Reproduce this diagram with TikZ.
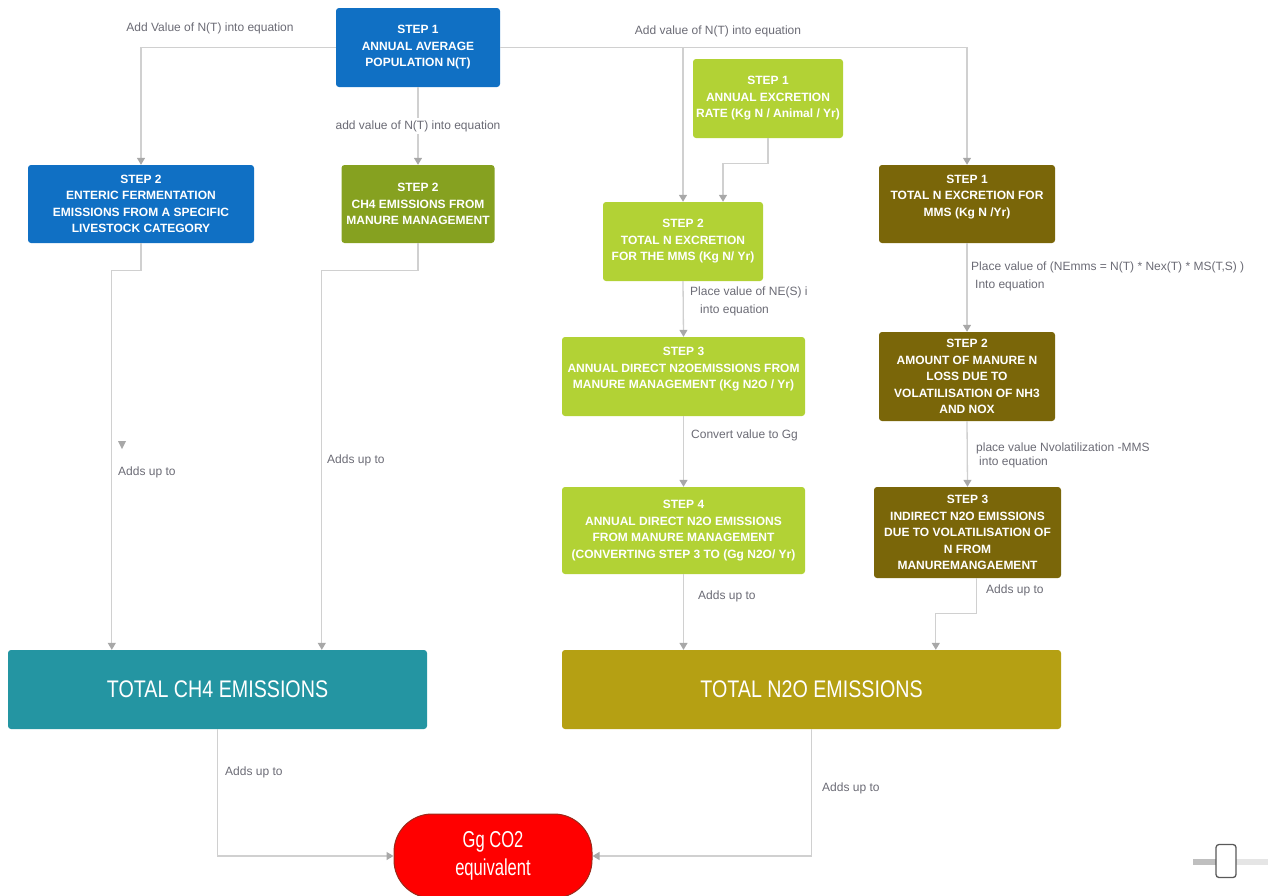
\documentclass[tikz,border=0pt]{standalone}
\usepackage{fontspec}
\setmainfont{Liberation Sans}
\newfontfamily\narrowfont[FakeStretch=0.82]{Liberation Sans}
\newfontfamily\pillfont[FakeStretch=0.72]{Liberation Sans}
\usetikzlibrary{arrows.meta,calc,positioning}

\definecolor{stepblue}{HTML}{1070C4}
\definecolor{mossgreen}{HTML}{86A120}
\definecolor{limegreen}{HTML}{B2D235}
\definecolor{darkolive}{HTML}{7A6609}
\definecolor{totteal}{HTML}{2495A2}
\definecolor{mustard}{HTML}{B5A013}
\definecolor{pillred}{HTML}{FF0000}
\definecolor{pillrim}{HTML}{9A2A1A}
\definecolor{linegray}{HTML}{D0D0D0}
\definecolor{tipgray}{HTML}{A8A8A8}
\definecolor{labgray}{HTML}{6B6B75}

\begin{document}
\begin{tikzpicture}[
            x=1pt, y=-1pt,
            box/.style={rectangle, rounded corners=3pt, align=center, text=white, inner sep=2pt,
                        font=\fontsize{12}{16.5}\selectfont\bfseries},
            total/.style={rectangle, rounded corners=3pt, text=white, minimum height=79pt,
                        font=\narrowfont\fontsize{24}{28}\selectfont},
            flow/.style={-{Triangle[width=8pt,length=7pt,color=tipgray]}, draw=linegray, line width=1.3pt},
            lab/.style={text=labgray, inner sep=1pt, align=left, font=\fontsize{12}{18}\selectfont}
        ]
        \useasboundingbox (0,0) rectangle (1268,895);

        % nodes
        \node[box, fill=stepblue, minimum width=164pt, minimum height=79pt] (pop) at (418,47.5)
            {STEP 1\\ANNUAL AVERAGE\\POPULATION N(T)};
        \node[box, fill=stepblue, minimum width=226pt, minimum height=78pt] (enteric) at (141,204)
            {STEP 2\\ENTERIC FERMENTATION\\EMISSIONS FROM A SPECIFIC\\LIVESTOCK CATEGORY};
        \node[box, fill=mossgreen, minimum width=153pt, minimum height=78pt] (ch4mm) at (418,204)
            {STEP 2\\CH4 EMISSIONS FROM\\MANURE MANAGEMENT};
        \node[box, fill=limegreen, minimum width=150pt, minimum height=79pt] (excr) at (768,98.5)
            {STEP 1\\ANNUAL EXCRETION\\RATE (Kg N / Animal / Yr)};
        \node[box, fill=limegreen, minimum width=160pt, minimum height=79pt] (totn) at (683,241.5)
            {STEP 2\\TOTAL N EXCRETION\\FOR THE MMS (Kg N/ Yr)};
        \node[box, fill=limegreen, minimum width=243pt, minimum height=79pt] (dirkg) at (683.5,376.5)
            {STEP 3\\ANNUAL DIRECT N2OEMISSIONS FROM\\MANURE MANAGEMENT (Kg N2O / Yr)\\\mbox{}};
        \node[box, fill=limegreen, minimum width=243pt, minimum height=87pt] (dirgg) at (683.5,530.5)
            {STEP 4\\ANNUAL DIRECT N2O EMISSIONS\\FROM MANURE MANAGEMENT\\(CONVERTING STEP 3 TO (Gg N2O/ Yr)};
        \node[box, fill=darkolive, minimum width=176pt, minimum height=78pt] (mms) at (967,204)
            {STEP 1\\TOTAL N EXCRETION FOR\\MMS (Kg N /Yr)\\\mbox{}};
        \node[box, fill=darkolive, minimum width=176pt, minimum height=89pt] (loss) at (967,376.5)
            {STEP 2\\AMOUNT OF MANURE N\\LOSS DUE TO\\VOLATILISATION OF NH3\\AND NOX};
        \node[box, fill=darkolive, minimum width=187pt, minimum height=91pt] (indir) at (967.5,532.5)
            {STEP 3\\INDIRECT N2O EMISSIONS\\DUE TO VOLATILISATION OF\\N FROM\\MANUREMANGAEMENT};
        \node[total, fill=totteal, minimum width=419pt] (ch4tot) at (217.5,689.5) {TOTAL CH4 EMISSIONS};
        \node[total, fill=mustard, minimum width=499pt] (n2otot) at (811.5,689.5) {TOTAL N2O EMISSIONS};
        \node[rectangle, rounded corners=38pt, fill=pillred, draw=pillrim, line width=1pt,
              minimum width=198pt, minimum height=84pt, align=center, text=white,
              font=\pillfont\fontsize{23}{28}\selectfont] (co2) at (493,856) {Gg CO2\\equivalent};

        % entry points on the boxes
        \coordinate (branch) at (totn.north |- pop.east);
        \coordinate (totnin) at ($(totn.north)+(40,0)$);
        \coordinate (ch4ina) at ($(ch4tot.north west)+(104,0)$);
        \coordinate (ch4inb) at ($(ch4tot.north west)+(314,0)$);
        \coordinate (n2oina) at (dirgg.south |- n2otot.north);
        \coordinate (indout) at ($(indir.south)+(9,0)$);
        \coordinate (n2oinb) at ($(n2otot.north west)+(374,0)$);

        % arrows
        \draw[flow] (pop.west) -| (enteric.north);
        \draw[flow] (pop.east) -| (mms.north);
        \draw[flow] (branch) -- (totn.north);
        \draw[flow] (pop.south) -- node[lab, fill=white, inner sep=2pt] (lpopch4) {add value of N(T) into equation} (ch4mm.north);
        \draw[flow] (excr.south) -- ++(0,25) -| (totnin);
        \draw[flow] (enteric.south) -- ++(0,27) -| (ch4ina);
        \draw[flow] (ch4mm.south) -- ++(0,27) -| (ch4inb);
        \draw[flow] (totn.south) -- (dirkg.north);
        \draw[flow] (dirkg.south) -- (dirgg.north);
        \draw[flow] (dirgg.south) -- (n2oina);
        \draw[flow] (mms.south) -- (loss.north);
        \draw[flow] (loss.south) -- (indir.north);
        \draw[flow] (indout) -- ++(0,35) -| (n2oinb);
        \draw[flow] (ch4tot.south) |- (co2.west);
        \draw[flow] (n2otot.south) |- (co2.east);
        \fill[tipgray] (118,441) -- (126,441) -- (122,449) -- cycle;

        % labels
        \node[lab] (lpopent) at (210,28) {Add Value of N(T) into equation};
        \node[lab] (lpopmms) at (718,31) {Add value of N(T) into equation};
        \node[lab, anchor=west] (lentsum) at (117,472) {Adds up to};
        \node[lab, anchor=west] (lmmsum) at (326,460) {Adds up to};
        \node[lab, anchor=west] (lnes) at (689,301) {Place value of NE(S) i\\\hspace*{10pt}into equation};
        \node[lab, anchor=west] (lconv) at (690,435) {Convert value to Gg};
        \node[lab, anchor=west] (ldirsum) at (697,596) {Adds up to};
        \node[lab, anchor=west] (lnemms) at (970,276.5) {Place value of (NEmms = N(T) * Nex(T) * MS(T,S) )\\\hspace*{4pt}Into equation};
        \node[lab, anchor=west, font=\fontsize{12}{14}\selectfont] (lnvol) at (975,455) {place value Nvolatilization -MMS\\\hspace*{3pt}into equation};
        \node[lab, anchor=west] (lindsum) at (985,590) {Adds up to};
        \node[lab, anchor=west] (lch4sum) at (224,772) {Adds up to};
        \node[lab, anchor=west] (ln2osum) at (821,788) {Adds up to};

        % slider
        \draw[line width=6pt, black!25] (1193,862) -- (1216,862);
        \draw[line width=6pt, black!10] (1236,862) -- (1268,862);
        \node[draw=black!65, line width=1.3pt, fill=white, rounded corners=3pt,
              minimum width=20pt, minimum height=33pt] (knob) at (1226,861) {};

    \end{tikzpicture}
\end{document}
